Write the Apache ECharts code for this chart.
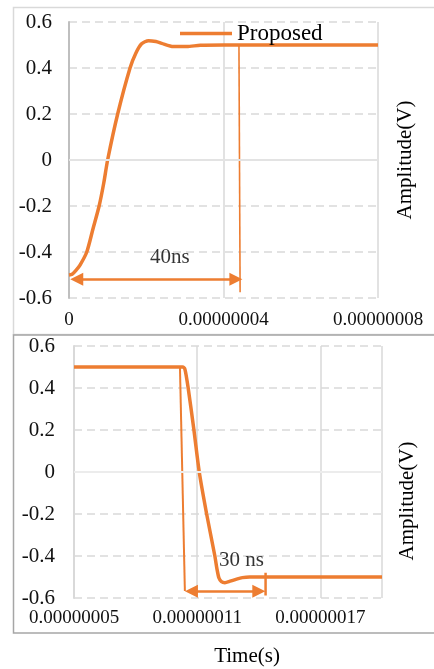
<!DOCTYPE html>
<html><head><meta charset="utf-8">
<script src="https://cdn.jsdelivr.net/npm/echarts@6/dist/echarts.min.js"></script>
<style>html,body{margin:0;padding:0;background:#fff}#c{width:434px;height:669px}</style>
</head><body><div id="c"></div>
<script>
// ---------- data (time in ns, amplitude in V) ----------
const seriesName = 'Proposed';
// top panel: rising edge
const topTimeNs = [0, 0.8, 1.8, 2.85, 4.6, 6.2, 7.8, 9, 10, 12.6, 15.8, 17.3, 18.8, 20.6, 22.5, 24, 27, 30.5, 34, 40, 80];
const topAmp    = [-0.5, -0.497, -0.48, -0.457, -0.4, -0.3, -0.2, -0.1, 0, 0.2, 0.4, 0.464, 0.505, 0.519, 0.515, 0.507, 0.493, 0.493, 0.499, 0.5, 0.5];
// bottom panel: falling edge
const botTimeNs = [50, 102.9, 104, 105.6, 108.4, 111, 114.6, 118.6, 119.6, 120.6, 121.8, 123.5, 126, 129.2, 132, 135.6, 200];
const botAmp    = [0.5, 0.5, 0.49, 0.4, 0.2, 0, -0.2, -0.4, -0.46, -0.505, -0.522, -0.527, -0.52, -0.51, -0.503, -0.5, -0.5];

// axes
const topXRange = [0, 80], topXStep = 40;          // ns -> labels 0, 0.00000004, 0.00000008
const botXRange = [50, 200], botXStep = 60;        // ns -> labels 0.00000005, 0.00000011, 0.00000017
const yRange = [-0.6, 0.6], yStep = 0.2;

// annotations
const topDropTime = [44.0, 44.3], topDropAmp = [0.5, -0.575];
const topArrowTime = [2.0, 43.2], topArrowAmp = -0.519;
const topNote = '40ns', topNoteAt = [26.1, -0.423];
const botDropTime = [101.6, 104.0], botDropAmp = [0.5, -0.567];
const botArrowTime = [107.2, 140.0], botArrowAmp = -0.568;
const botTickTime = [143.3, 143.3], botTickAmp = [-0.48, -0.588];
const botNote = '30 ns', botNoteAt = [131.6, -0.42];

// ---------- build ----------
const ORANGE = '#ED7D31';
const FONT = '"Liberation Serif", "Times New Roman", serif';
const botOff = botXRange[0];
const zip = (xs, ys, off) => xs.map((x, i) => [x - (off || 0), ys[i]]);

function yAxis(gi, axisColor, margin) {
  return {
    type: 'value', gridIndex: gi, min: yRange[0], max: yRange[1], interval: yStep,
    axisLine: { show: true, lineStyle: { color: axisColor, width: 2 } },
    axisTick: { show: false },
    axisLabel: { margin: margin, fontFamily: FONT, fontSize: 21, color: '#111',
      formatter: v => String(Math.round(v * 10) / 10) },
    splitLine: { show: true, lineStyle: { color: '#d9d9d9', width: 1.5, type: [8, 5] } }
  };
}
function xAxis(gi, range, step, off, margin) {
  return {
    type: 'value', gridIndex: gi, min: range[0] - off, max: range[1] - off, interval: step,
    axisLine: { show: false }, axisTick: { show: false },
    axisLabel: { margin: margin, fontFamily: FONT, fontSize: 19, color: '#111',
      formatter: v => { const t = v + off; return t === 0 ? '0' : (t * 1e-9).toFixed(8); } },
    splitLine: { show: true, lineStyle: { color: '#d9d9d9', width: 1.5, type: 'solid' } }
  };
}
function zeroLine(idx, color) {
  return { type: 'line', xAxisIndex: idx, yAxisIndex: idx, data: [], z: 1, silent: true,
    markLine: { silent: true, symbol: 'none', label: { show: false },
      lineStyle: { color: color, width: 2, type: 'solid' }, data: [{ yAxis: 0 }] } };
}
function arrow(idx, t, a, off) {
  return { type: 'line', xAxisIndex: idx, yAxisIndex: idx, data: [], z: 4, silent: true,
    markLine: { silent: true, symbol: ['triangle', 'triangle'], symbolSize: 13, label: { show: false },
      lineStyle: { color: ORANGE, width: 2.5, type: 'solid' },
      data: [[{ coord: [t[0] - off, a] }, { coord: [t[1] - off, a] }]] } };
}
function thin(idx, ts, as, off, w) {
  return { type: 'line', xAxisIndex: idx, yAxisIndex: idx, data: zip(ts, as, off), z: 3,
    showSymbol: false, symbol: 'none', silent: true, lineStyle: { color: ORANGE, width: w } };
}
function note(idx, text, at, off) {
  return { type: 'scatter', xAxisIndex: idx, yAxisIndex: idx, data: [[at[0] - off, at[1]]],
    symbolSize: 1, itemStyle: { color: 'transparent' }, silent: true, z: 5,
    label: { show: true, position: 'inside', formatter: text, fontFamily: FONT, fontSize: 21, color: '#000' } };
}
function main(idx, ts, as, off) {
  return { name: seriesName, type: 'line', xAxisIndex: idx, yAxisIndex: idx, data: zip(ts, as, off),
    smooth: 0.25, showSymbol: false, symbol: 'none', z: 3,
    lineStyle: { color: ORANGE, width: 3.5 }, itemStyle: { color: ORANGE } };
}

const chart = echarts.init(document.getElementById('c'), null, { renderer: 'canvas' });
chart.setOption({
  animation: false,
  backgroundColor: '#fff',
  grid: [
    { left: 69, top: 22, width: 309, height: 276 },
    { left: 74, top: 346, width: 308, height: 252 }
  ],
  legend: {
    data: [seriesName], left: 175, top: 17, icon: 'rect', itemWidth: 52, itemHeight: 3.5, itemGap: 6,
    itemStyle: { color: ORANGE },
    textStyle: { fontFamily: FONT, fontSize: 23, color: '#000' }
  },
  xAxis: [xAxis(0, topXRange, topXStep, 0, 13), xAxis(1, botXRange, botXStep, botOff, 11)],
  yAxis: [yAxis(0, '#bfbfbf', 17), yAxis(1, '#d9d9d9', 19)],
  series: [
    zeroLine(0, '#e3e3e3'),
    zeroLine(1, '#ececec'),
    main(0, topTimeNs, topAmp, 0),
    main(1, botTimeNs, botAmp, botOff),
    thin(0, topDropTime, topDropAmp, 0, 1.6),
    thin(1, botDropTime, botDropAmp, botOff, 2),
    thin(1, botTickTime, botTickAmp, botOff, 2.5),
    arrow(0, topArrowTime, topArrowAmp, 0),
    arrow(1, botArrowTime, botArrowAmp, botOff),
    note(0, topNote, topNoteAt, 0),
    note(1, botNote, botNoteAt, botOff)
  ],
  graphic: [
    { type: 'rect', z: 0, silent: true, shape: { x: 13.5, y: 7.5, width: 440, height: 327 },
      style: { fill: 'none', stroke: '#d9d9d9', lineWidth: 1.5 } },
    { type: 'rect', z: 0, silent: true, shape: { x: 13.5, y: 335, width: 440, height: 298 },
      style: { fill: 'none', stroke: '#a6a6a6', lineWidth: 1.5 } },
    { type: 'text', x: 405, y: 160, rotation: Math.PI / 2, silent: true,
      style: { text: 'Amplitude(V)', font: '21px ' + FONT, fill: '#000', textAlign: 'center', textVerticalAlign: 'middle' } },
    { type: 'text', x: 407, y: 501, rotation: Math.PI / 2, silent: true,
      style: { text: 'Amplitude(V)', font: '21px ' + FONT, fill: '#000', textAlign: 'center', textVerticalAlign: 'middle' } },
    { type: 'text', x: 247, y: 656, silent: true,
      style: { text: 'Time(s)', font: '21px ' + FONT, fill: '#000', textAlign: 'center', textVerticalAlign: 'middle' } }
  ]
});
</script></body></html>
